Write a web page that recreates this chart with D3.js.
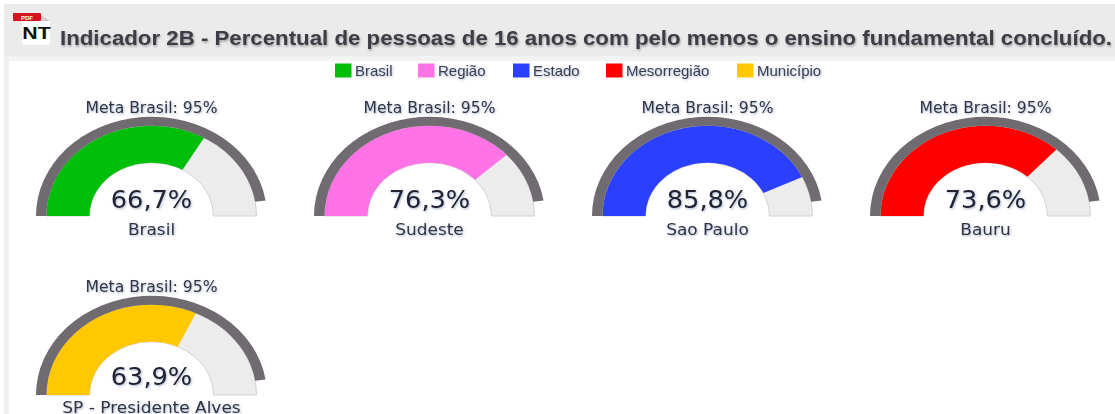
<!DOCTYPE html>
<html><head><meta charset="utf-8">
<script src="https://cdn.jsdelivr.net/npm/d3@7/dist/d3.min.js"></script>
<style>html,body{margin:0;padding:0;background:#fff;overflow:hidden}svg{display:block}</style>
</head><body><svg id="c" width="1115" height="414"></svg>
<script>
const titleText = "Indicador 2B - Percentual de pessoas de 16 anos com pelo menos o ensino fundamental concluído.";
const legendLabels = ["Brasil","Região","Estado","Mesorregião","Município"];
const legendColors = ["#00bf0b","#ff73e6","#2b40ff","#ff0000","#ffc800"];
const gaugeNames = ["Brasil","Sudeste","Sao Paulo","Bauru","SP - Presidente Alves"];
const gaugeValues = [66.7,76.3,85.8,73.6,63.9];
const metaValue = 95;

const svg = d3.select("#c");
const defs = svg.append("defs");
const blur = (id,dy,sd,col,op)=>{const f=defs.append("filter").attr("id",id).attr("x","-10%").attr("y","-40%").attr("width","120%").attr("height","190%");
  f.append("feGaussianBlur").attr("stdDeviation",0.4).attr("in","SourceGraphic").attr("result","s");
  f.append("feDropShadow").attr("in","s").attr("dx",0.8).attr("dy",dy).attr("stdDeviation",sd).attr("flood-color",col).attr("flood-opacity",op);};
blur("ts",1.5,1.2,"#666",0.6);
blur("ls",1,1,"#4a6a9a",0.5);

svg.append("rect").attr("width",1115).attr("height",414).attr("fill","#fff");
svg.append("rect").attr("x",4).attr("y",4).attr("width",1111).attr("height",52).attr("fill","#ebebeb");
svg.append("rect").attr("x",4).attr("y",56).attr("width",1111).attr("height",5).attr("fill","#f3f3f3");
svg.append("rect").attr("x",4).attr("y",56).attr("width",5).attr("height",358).attr("fill","#efefef");

// NT icon
const ic = svg.append("g");
ic.append("path").attr("d","M22 20h20l8 0v24.5H22z").attr("fill","#fff");
ic.append("path").attr("d","M41 15l9 6h-9z").attr("fill","#ccc");
ic.append("rect").attr("x",13).attr("y",13).attr("width",28).attr("height",8).attr("rx",1).attr("fill","#d2141e");
ic.append("text").attr("x",27).attr("y",19.5).attr("text-anchor","middle").attr("font-family","Liberation Sans").attr("font-size",6).attr("font-weight",700).attr("fill","#fff").text("PDF");
ic.append("text").attr("transform","translate(36.5,38.5) scale(1.25,1)").attr("text-anchor","middle").attr("font-family","Liberation Sans").attr("font-size",17).attr("font-weight",700).attr("fill","#111").text("NT");

svg.append("text").attr("x",60).attr("y",45).attr("font-family","Liberation Sans").attr("font-weight",700)
  .attr("font-size",20).attr("fill","#3c3c46").attr("filter","url(#ts)").attr("textLength",1052).attr("lengthAdjust","spacingAndGlyphs").text(titleText);

// legend
const legendX = [335,418,513,606,737];
const lg = svg.append("g").selectAll("g").data(legendLabels).join("g").attr("transform",(d,i)=>`translate(${legendX[i]},63.5)`);
lg.append("rect").attr("width",16.5).attr("height",14).attr("fill",(d,i)=>legendColors[i]);
lg.append("text").attr("x",20).attr("y",12).attr("font-family","Liberation Sans").attr("font-size",15).attr("transform","scale(1,1)").attr("fill","#3c3c50").attr("filter","url(#ls)").text(d=>d);

// gauges
const angle = d3.scaleLinear().domain([0,100]).range([-Math.PI/2,Math.PI/2]);
const cols = d3.scaleOrdinal().domain([0,1,2,3]).range([151.5,429.5,707.5,985.5]);
const rows = d3.scaleOrdinal().domain([0,1]).range([216,395]);
const R = {in:62,out:105,metaIn:105,metaOut:115.5};
const squash = 0.86;
const font = "DejaVu Sans";
const gs = svg.append("g").selectAll("g").data(gaugeNames).join("g")
  .attr("transform",(d,i)=>`translate(${cols(i%4)},${rows(Math.floor(i/4))})`);
const arcs = gs.append("g").attr("transform",`scale(1,${squash})`);
const arc = d3.arc();
arcs.append("path").attr("d",arc({innerRadius:R.in,outerRadius:R.out,startAngle:angle(0),endAngle:angle(100)})).attr("fill","#ececec").attr("stroke","#cfcfcf").attr("stroke-width",1);
arcs.append("path").attr("d",(d,i)=>arc({innerRadius:R.in,outerRadius:R.out,startAngle:angle(0),endAngle:angle(gaugeValues[i])})).attr("fill",(d,i)=>legendColors[i]);
arcs.append("path").attr("d",arc({innerRadius:R.metaIn,outerRadius:R.metaOut,startAngle:angle(0),endAngle:angle(metaValue)})).attr("fill","#706b70");
gs.append("text").attr("transform","translate(0,-103.5) scale(1.04,1)").attr("text-anchor","middle").attr("font-family",font).attr("font-size",15).attr("fill","#333340").attr("filter","url(#ls)").text("Meta Brasil: "+metaValue+"%");
gs.append("text").attr("transform",(d,i)=>`translate(0,${i<4?-8:-10}) scale(1.07,1)`).attr("text-anchor","middle").attr("font-family",font).attr("font-size",24).attr("fill","#222230").attr("filter","url(#ls)").text((d,i)=>d3.format(".1f")(gaugeValues[i]).replace(".",",")+"%");
gs.append("text").attr("transform",(d,i)=>`translate(0,${i<4?18.5:17.5}) scale(1.13,1)`).attr("text-anchor","middle").attr("font-family",font).attr("font-size",15).attr("fill","#333340").attr("filter","url(#ls)").text(d=>d);
</script></body></html>
